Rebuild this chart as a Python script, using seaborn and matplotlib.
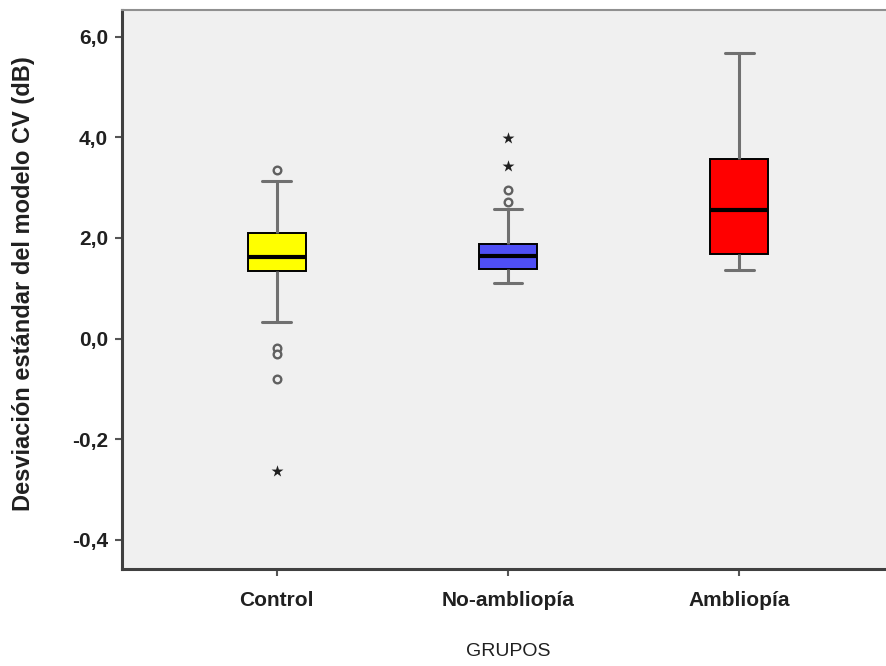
import numpy as np
import pandas as pd
import seaborn as sns
import matplotlib.pyplot as plt

# grupos y resumen de cada caja (bigote inf, Q1, mediana, Q3, bigote sup)
grupos = ["Control", "No-ambliopía", "Ambliopía"]
resumen_control = [0.32, 1.34, 1.63, 2.10, 3.14]
resumen_no_ambl = [1.10, 1.38, 1.65, 1.88, 2.57]
resumen_ambl = [1.36, 1.69, 2.56, 3.57, 5.68]

# valores atipicos (circulos) y extremos (estrellas)
atipicos_grupo = ["Control", "Control", "Control", "Control", "No-ambliopía", "No-ambliopía"]
atipicos_valor = [3.35, -0.18, -0.30, -0.81, 2.96, 2.72]
extremos_grupo = ["Control", "No-ambliopía", "No-ambliopía"]
extremos_valor = [-2.63, 3.98, 3.42]

colores = ["#ffff00", "#4f4ff5", "#ff0000"]
yticks = [6, 4, 2, 0, -2, -4]
ytick_labels = ["6,0", "4,0", "2,0", "0,0", "-0,2", "-0,4"]

df = pd.DataFrame({
    "GRUPOS": np.repeat(grupos, 5),
    "valor": resumen_control + resumen_no_ambl + resumen_ambl,
})
df_at = pd.DataFrame({"GRUPOS": atipicos_grupo, "valor": atipicos_valor})
df_ex = pd.DataFrame({"GRUPOS": extremos_grupo, "valor": extremos_valor})

sns.set_style("white")
plt.rcParams["font.family"] = ["Liberation Sans", "DejaVu Sans"]

fig = plt.figure(figsize=(8.86, 6.66), dpi=100)
ax = fig.add_axes([122 / 886, 97 / 666, 772 / 886, 559 / 666])
ax.set_facecolor("#f0f0f0")

sns.boxplot(data=df, x="GRUPOS", y="valor", hue="GRUPOS", order=grupos,
            palette=colores, saturation=1, width=0.25, whis=(0, 100),
            showfliers=False, linewidth=1.4, linecolor="black", legend=False, ax=ax,
            whiskerprops=dict(color="#707070", linewidth=2.2),
            capprops=dict(color="#707070", linewidth=2.2),
            medianprops=dict(color="black", linewidth=3),
            boxprops=dict(edgecolor="black", linewidth=1.4))

# caps a la mitad del ancho de la caja
for line in ax.lines:
    xd = np.asarray(line.get_xdata(), dtype=float)
    yd = np.asarray(line.get_ydata(), dtype=float)
    if len(xd) == 2 and yd[0] == yd[1] and line.get_color() == "#707070":
        c = xd.mean()
        line.set_xdata([c - 0.0625, c + 0.0625])

sns.stripplot(data=df_at, x="GRUPOS", y="valor", order=grupos, jitter=False,
              marker="o", size=5.5, color="#f0f0f0", edgecolor="#606060",
              linewidth=1.7, ax=ax)
sns.stripplot(data=df_ex, x="GRUPOS", y="valor", order=grupos, jitter=False,
              marker="*", size=9, color="#202020", ax=ax)

ax.set_xlim(-0.67, 2.67)
ax.set_ylim(-4.58, 6.53)
ax.set_yticks(yticks)
ax.set_yticklabels(ytick_labels, fontsize=15, fontweight="bold", color="#202020")
ax.set_xticks(range(3))
ax.set_xticklabels(grupos, fontsize=15, fontweight="bold", color="#202020")
ax.tick_params(axis="both", direction="out", length=5, width=1.5, color="#555555",
               left=True, bottom=True)
ax.tick_params(axis="x", pad=11)
ax.tick_params(axis="y", pad=5)

for s in ["left", "bottom"]:
    ax.spines[s].set_color("#404040")
    ax.spines[s].set_linewidth(2.2)
ax.spines["top"].set_color("#909090")
ax.spines["top"].set_linewidth(1.5)
ax.spines["right"].set_visible(False)

ax.set_ylabel("Desviación estándar del modelo CV (dB)", fontsize=17,
              fontweight="bold", color="#202020")
ax.yaxis.set_label_coords(-0.113, 0.51)
ax.set_xlabel("GRUPOS", fontsize=14, color="#202020")
ax.xaxis.set_label_coords(0.5, -0.132)

fig.savefig("out.png", dpi=100)
